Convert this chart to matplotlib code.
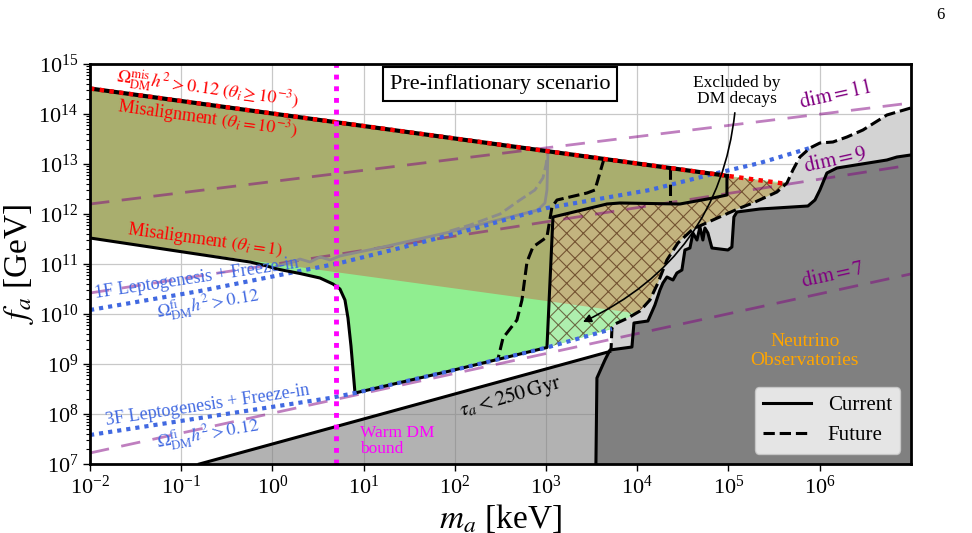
import numpy as np
import matplotlib
matplotlib.use("Agg")
import matplotlib.pyplot as plt
from matplotlib.patches import Polygon
from matplotlib.lines import Line2D
from matplotlib.ticker import LogLocator, NullLocator

plt.rcParams['font.family'] = ['Liberation Serif', 'DejaVu Serif']
plt.rcParams['mathtext.fontset'] = 'stix'
plt.rcParams['hatch.linewidth'] = 0.8

# ---------------- data: log10(m_a / keV), log10(f_a / GeV) ----------------
# misalignment band (theta_i = 1 lower edge, theta_i = 1e-3 upper edge)
band_logm = [-2.0, 7.0]
mis_theta1_logf = [11.52, 9.27]
mis_theta3_logf = [14.51, 12.26]

# upper misalignment line (current part) and relic-density line (red dotted)
mis_cur_logm = [-2.0, 4.985]
mis_cur_logf = [14.51, 12.764]
mis_relic_logm = [-2.0, 5.643]
mis_relic_logf = [14.51, 12.60]

# current bound (misalignment theta=1 + freeze-in + X-ray box)
current_logm = [-2.0, -0.246, -0.081, 0.050, 0.303, 0.522, 0.664, 0.741, 0.796,
                0.829, 0.862, 0.906, 1.947, 3.011, 3.077, 3.669, 3.811, 4.469,
                4.831, 4.985, 4.985]
current_logf = [11.52, 11.04, 10.97, 10.90, 10.81, 10.72, 10.60, 10.50, 10.28,
                9.92, 9.36, 8.42, 8.86, 9.33, 11.94, 12.20, 12.22, 12.20,
                12.32, 12.38, 12.764]

# 1F leptogenesis + freeze-in
lep1F_logm = [-2.0, -0.794, 0.741, 1.399, 1.947, 2.276, 3.011, 3.515, 4.140,
              4.831, 5.346, 5.895]
lep1F_logf = [10.08, 10.46, 11.02, 11.32, 11.58, 11.74, 12.12, 12.28, 12.48,
              12.80, 13.02, 13.32]

# 3F leptogenesis + freeze-in
lep3F_logm = [-2.0, -0.794, 0.632, 0.906, 1.947, 3.011, 3.724]
lep3F_logf = [7.58, 7.92, 8.32, 8.42, 8.86, 9.33, 9.70]

# grey curves
grey_solid_logm = [0.050, 0.226, 0.303, 0.412, 0.522, 0.632, 0.741, 1.213,
                   1.947, 2.912, 2.989, 3.011, 3.022]
grey_solid_logf = [10.96, 11.04, 11.10, 11.04, 11.14, 11.08, 11.16, 11.34,
                   11.64, 12.08, 12.22, 12.48, 13.25]
grey_dash_logm = [1.947, 2.167, 2.496, 2.715, 2.879, 2.967, 3.000, 3.022]
grey_dash_logf = [11.66, 11.78, 12.00, 12.28, 12.48, 12.72, 12.98, 13.25]

# future X-ray bounds (dashed)
futx_logm = [3.636, 3.537, 3.450, 3.121, 3.066, 3.011, 2.857, 2.792, 2.737,
             2.682, 2.529, 2.474]
futx_logf = [13.10, 12.48, 12.42, 12.28, 12.14, 11.54, 11.34, 11.04, 10.28,
             9.88, 9.52, 9.10]
futx2_logm = [4.36, 4.36]
futx2_logf = [12.92, 12.20]

# future neutrino observatories (light grey, dashed edge)
futnu_logm = [7.0, 6.739, 6.476, 6.301, 6.147, 6.004, 5.895, 5.785, 5.708,
              5.643, 5.533, 5.270, 5.127, 4.831, 4.612, 4.447, 4.327, 4.228,
              4.140, 4.031, 3.899, 3.757, 3.724, 3.713]
futnu_logf = [14.12, 13.98, 13.68, 13.54, 13.44, 13.42, 13.32, 13.14, 12.88,
              12.62, 12.44, 12.22, 12.12, 11.88, 11.70, 11.42, 11.08, 10.62,
              10.28, 10.06, 9.92, 9.80, 9.72, 9.26]

# current neutrino observatories (dark grey, solid edge)
curnu_logm = [3.548, 3.559, 3.647, 3.702, 3.943, 3.965, 4.118, 4.195, 4.250,
              4.283, 4.327, 4.393, 4.436, 4.491, 4.524, 4.579, 4.612, 4.656,
              4.689, 4.721, 4.743, 4.776, 4.820, 4.996, 5.039, 5.061, 5.094,
              5.346, 5.873, 5.950, 6.004, 6.081, 6.191, 6.739, 6.849, 7.0]
curnu_logf = [7.00, 8.72, 9.08, 9.28, 9.34, 9.82, 9.86, 10.18, 10.48,
              10.62, 10.74, 10.68, 10.82, 10.88, 11.28, 11.32, 11.62, 11.48,
              11.74, 11.48, 11.72, 11.62, 11.32, 11.28, 11.34, 11.94, 12.04,
              12.10, 12.16, 12.28, 12.48, 12.82, 12.92, 13.08, 13.14, 13.18]

# lifetime bound tau_a < 250 Gyr
tau_logm = [-0.80, 3.70]
tau_logf = [7.00, 9.25]

# operator-dimension lines
dim_logm = [-2.0, 7.0]
dim11_logf = [12.20, 14.22]
dim9_logf = [10.42, 12.98]
dim7_logf = [7.22, 10.80]

warm_dm_mass = 5.0  # keV

# ---------------- helpers ----------------
P = lambda a: 10.0 ** np.asarray(a, dtype=float)

OLIVE = '#A9AE6E'
GREEN = '#90EE90'
TAN = '#C3B47F'
PALEGREEN = '#AEEFAE'
BLUE = '#4169E1'

fig = plt.figure(figsize=(9.72, 5.33), dpi=100)
ax = fig.add_axes([90 / 972, 69 / 533, 820.7 / 972, 400 / 533])
ax.set_xscale('log')
ax.set_yscale('log')
ax.set_axisbelow(True)
ax.grid(True, which='major', color='#c8c8c8', lw=0.9, zorder=0)

cm = np.array(current_logm); cf = np.array(current_logf)
l3m = np.array(lep3F_logm); l3f = np.array(lep3F_logf)
fnm = np.array(futnu_logm); fnf = np.array(futnu_logf)

# green region (bounded by current curve, 3F line, future neutrino edge)
g_curve = (cm >= -0.25) & (cm <= 0.906)
g_bot = (l3m > 0.906)
g_right = (fnm >= 3.72) & (fnm <= 4.15)
gx = np.concatenate([cm[g_curve], l3m[g_bot], fnm[g_right][::-1], [-0.246]])
gy = np.concatenate([cf[g_curve], l3f[g_bot], fnf[g_right][::-1], [11.10]])
ax.fill(P(gx), P(gy), color=GREEN, lw=0, zorder=1)

# olive misalignment band
ax.fill_between(P(band_logm), P(mis_theta1_logf), P(mis_theta3_logf),
                color=OLIVE, lw=0, zorder=2)

# hatched "excluded by DM decays" region
h_bot = (l3m >= 3.011) & (l3m < 3.72)
h_right = (fnm >= 3.72) & (fnm <= 5.65)
idx = np.arange(len(cm))
h_box = (idx >= 13) & (idx <= 19)
hx = np.concatenate([l3m[h_bot], fnm[h_right][::-1], [mis_cur_logm[1]], cm[h_box][::-1]])
hy = np.concatenate([l3f[h_bot], fnf[h_right][::-1], [mis_cur_logf[1]], cf[h_box][::-1]])
hverts = np.column_stack([P(hx), P(hy)])
hpatch = Polygon(hverts, closed=True, transform=ax.transData,
                 facecolor=PALEGREEN, edgecolor='none', lw=0, zorder=3)
ax.add_patch(hpatch)
tan = ax.fill_between(P(band_logm), P(mis_theta1_logf), P(mis_theta3_logf),
                      color=TAN, lw=0, zorder=3.1)
tan.set_clip_path(hpatch)
ax.add_patch(Polygon(hverts, closed=True, transform=ax.transData,
                     facecolor='none', edgecolor=(0.25, 0.08, 0.0, 0.6), lw=0,
                     hatch='xx', zorder=3.2))

# lifetime region
ax.fill(P(list(tau_logm) + [tau_logm[1]]), P(list(tau_logf) + [tau_logf[0]]),
        color='grey', alpha=0.6, lw=0, zorder=4)
ax.plot(P(tau_logm), P(tau_logf), color='black', lw=2.2, zorder=9)

# future neutrino (light grey)
ax.fill(P(list(futnu_logm) + [futnu_logm[-1], 7.0]),
        P(list(futnu_logf) + [7.0, 7.0]), color='lightgrey', lw=0, zorder=5)
ax.plot(P(futnu_logm), P(futnu_logf), color='black', lw=2.2, ls='--', zorder=9)

# current neutrino (dark grey)
ax.fill(P(list(curnu_logm) + [7.0]), P(list(curnu_logf) + [7.0]),
        color='grey', lw=0, zorder=6)
ax.plot(P(curnu_logm), P(curnu_logf), color='black', lw=2.2, zorder=9)

# operator-dimension lines
for f in (dim11_logf, dim9_logf, dim7_logf):
    ax.plot(P(dim_logm), P(f), color='purple', alpha=0.5, lw=2.0,
            ls=(0, (7, 4.5)), zorder=7)

# leptogenesis lines
ax.plot(P(lep1F_logm), P(lep1F_logf), color=BLUE, lw=3, ls=(0, (1, 1.2)), zorder=8.5)
ax.plot(P(lep3F_logm), P(lep3F_logf), color=BLUE, lw=3, ls=(0, (1, 1.2)), zorder=9.5)

# grey curves
ax.plot(P(grey_solid_logm), P(grey_solid_logf), color='#8c8c8c', lw=2, zorder=8)
ax.plot(P(grey_dash_logm), P(grey_dash_logf), color='#8c8c8c', lw=2, ls='--', zorder=8)

# current / future black curves
ax.plot(P(current_logm), P(current_logf), color='black', lw=2.2, zorder=9)
ax.plot(P(futx_logm), P(futx_logf), color='black', lw=2.2, ls='--', zorder=9)
ax.plot(P(futx2_logm), P(futx2_logf), color='black', lw=2.2, ls='--', zorder=9)

# upper misalignment line
ax.plot(P(mis_cur_logm), P(mis_cur_logf), color='black', lw=3, zorder=9)
ax.plot(P(mis_relic_logm), P(mis_relic_logf), color='red', lw=3.2,
        ls=(0, (1, 1.2)), zorder=10)

# warm DM bound
ax.axvline(warm_dm_mass, color='magenta', lw=3.5, ls=(0, (1, 1.4)), zorder=11)

# ---------------- texts ----------------
def T(lm, lf, s, **kw):
    ax.text(10 ** lm, 10 ** lf, s, ha='center', va='center', zorder=12, **kw)

T(-0.706, 14.50, r'$\Omega^{\rm mis}_{\rm DM}h^2 > 0.12\ (\theta_i \geq 10^{-3})$',
  color='red', fontsize=13, rotation=-7.8)
T(-0.706, 13.92, r'Misalignment $(\theta_i = 10^{-3})$', color='red', fontsize=13,
  rotation=-7.8)
T(-0.739, 11.48, r'Misalignment $(\theta_i = 1)$', color='red', fontsize=13,
  rotation=-7.8)
T(-0.827, 10.72, '1F Leptogenesis + Freeze-in', color=BLUE, fontsize=13, rotation=8.5)
T(-0.706, 10.20, r'$\Omega^{\rm fi}_{\rm DM}h^2 > 0.12$', color=BLUE, fontsize=13,
  rotation=9.5)
T(-0.706, 8.18, '3F Leptogenesis + Freeze-in', color=BLUE, fontsize=13, rotation=8.5)
T(-0.706, 7.60, r'$\Omega^{\rm fi}_{\rm DM}h^2 > 0.12$', color=BLUE, fontsize=13,
  rotation=9.5)
T(2.605, 8.34, r'$\tau_a < 250\,\mathrm{Gyr}$', color='black', fontsize=15, rotation=16)
ax.text(10 ** 0.96, 10 ** 7.46, 'Warm DM\nbound', color='magenta', fontsize=12.5,
        ha='left', va='center', linespacing=1.05, zorder=12)
T(6.17, 14.38, r'$\mathrm{dim}=11$', color='purple', fontsize=15, rotation=12.5)
T(6.17, 13.08, r'$\mathrm{dim}=9$', color='purple', fontsize=15, rotation=12.5)
T(6.147, 10.78, r'$\mathrm{dim}=7$', color='purple', fontsize=15, rotation=12.5)
T(5.84, 9.26, 'Neutrino\nObservatories', color='#FFA500', fontsize=14)

ax.annotate('Excluded by\nDM decays', xy=(10 ** 3.406, 10 ** 9.84),
            xytext=(10 ** 5.09, 10 ** 14.46), ha='center', va='center',
            fontsize=12.5, linespacing=1.05, zorder=12,
            arrowprops=dict(arrowstyle='-|>', color='black', lw=1.2,
                            connectionstyle='arc3,rad=-0.3', shrinkA=2,
                            shrinkB=0, mutation_scale=12))

ax.text(0.5, 0.95, 'Pre-inflationary scenario', transform=ax.transAxes,
        ha='center', va='center', fontsize=16, zorder=13,
        bbox=dict(boxstyle='square,pad=0.3', fc='white', ec='black', lw=1.5))

handles = [Line2D([], [], color='black', lw=2.2, ls='-'),
           Line2D([], [], color='black', lw=2.2, ls='--')]
leg = ax.legend(handles, ['Current', 'Future'], loc='lower right', fontsize=15,
                handlelength=2.3)
leg.set_zorder(14)

fig.text(940 / 972, 1 - 15 / 533, '6', ha='center', va='center', fontsize=12)

# ---------------- axes ----------------
ax.set_xlim(1e-2, 1e7)
ax.set_ylim(1e7, 1e15)
ax.set_xticks([10.0 ** k for k in range(-2, 7)])
ax.xaxis.set_minor_locator(NullLocator())
ax.yaxis.set_major_locator(LogLocator(base=10, numticks=20))
ax.yaxis.set_minor_locator(LogLocator(base=10, subs=np.arange(2, 10) * 1.0, numticks=100))
ax.tick_params(which='major', labelsize=16, length=5, width=1)
ax.tick_params(which='minor', length=3, width=0.8)
for s in ax.spines.values():
    s.set_linewidth(2)
    s.set_zorder(15)
ax.set_xlabel(r'$m_a$ [keV]', fontsize=24, labelpad=2)
ax.set_ylabel(r'$f_a$ [GeV]', fontsize=24, labelpad=2)

fig.savefig('out.png', dpi=100)
